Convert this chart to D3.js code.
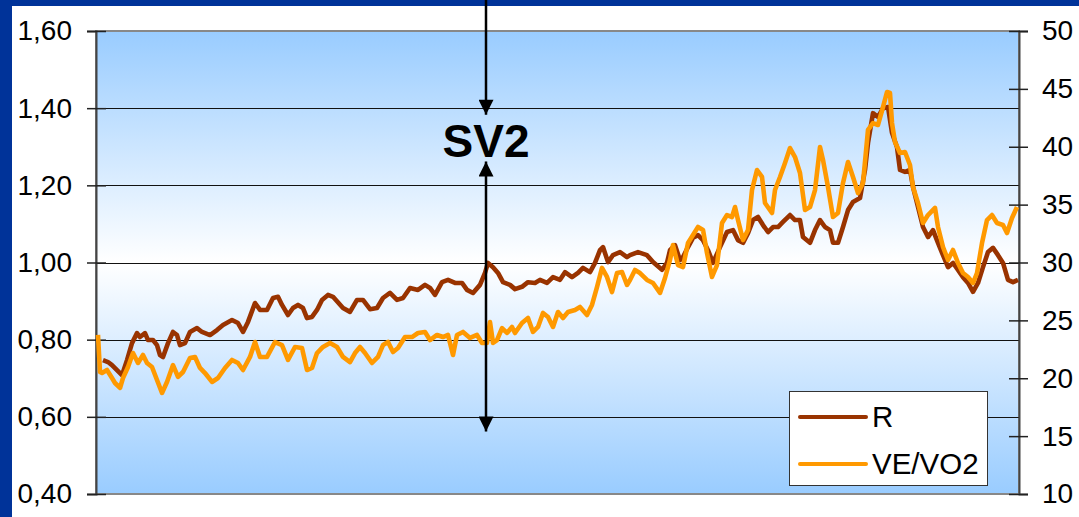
<!DOCTYPE html>
<html><head><meta charset="utf-8">
<script src="https://cdn.jsdelivr.net/npm/d3@7"></script>
<style>html,body{margin:0;padding:0;background:#fff;overflow:hidden}svg{display:block;font-family:"Liberation Sans",Arial,sans-serif}</style>
</head><body>
<svg id="c" width="1079" height="517"></svg>
<script>
// sample index (x) and values
const rT = [7,12,16,21,26,31,36,41,44,49,52,57,61,64,67,72,77,81,84,89,94,101,106,114,121,127,136,142,147,152,159,164,171,177,182,186,192,197,202,207,211,216,221,226,232,237,247,254,261,267,274,281,287,294,301,307,314,322,329,334,339,346,352,359,366,371,377,384,389,392,397,402,407,414,419,426,432,439,444,451,457,464,469,476,482,487,494,499,504,507,512,517,524,531,534,542,551,557,566,571,574,579,584,587,592,597,602,607,612,617,624,631,637,642,647,652,657,662,667,672,677,682,687,694,699,704,707,714,719,724,729,734,737,742,747,752,757,764,769,772,777,782,787,792,796,801,804,809,814,817,822,827,832,837,842,847,852,857,862,867,872,877,882,887,892,897,902,907,912,917,922];
const rVals = [0.747,0.742,0.734,0.721,0.708,0.747,0.791,0.817,0.807,0.817,0.799,0.799,0.786,0.760,0.755,0.791,0.820,0.812,0.786,0.791,0.820,0.830,0.820,0.812,0.825,0.838,0.851,0.843,0.820,0.846,0.895,0.877,0.877,0.908,0.911,0.890,0.864,0.882,0.890,0.882,0.856,0.859,0.877,0.903,0.916,0.911,0.882,0.872,0.903,0.903,0.879,0.882,0.908,0.921,0.903,0.908,0.934,0.929,0.942,0.934,0.916,0.949,0.955,0.947,0.947,0.929,0.921,0.942,0.973,0.999,0.988,0.973,0.949,0.942,0.931,0.937,0.949,0.947,0.955,0.947,0.962,0.955,0.975,0.962,0.973,0.986,0.975,0.999,1.032,1.040,1.001,1.019,1.027,1.014,1.019,1.027,1.019,1.001,0.981,0.999,1.032,1.045,1.006,1.014,1.040,1.064,1.071,1.058,1.032,0.999,1.040,1.079,1.084,1.058,1.051,1.076,1.110,1.118,1.097,1.079,1.092,1.092,1.105,1.123,1.110,1.110,1.066,1.051,1.084,1.110,1.092,1.084,1.051,1.051,1.092,1.136,1.157,1.167,1.240,1.310,1.387,1.377,1.400,1.403,1.336,1.299,1.240,1.235,1.240,1.196,1.144,1.092,1.066,1.084,1.051,1.019,0.988,0.999,0.981,0.962,0.947,0.924,0.947,0.988,1.027,1.038,1.019,0.999,0.955,0.949,0.955];

const veT = [2,4,6,11,16,19,24,27,32,37,42,47,51,56,61,66,71,77,82,87,94,99,104,109,116,122,129,136,142,147,154,159,164,171,179,186,192,199,206,211,216,221,227,234,241,247,254,259,264,269,276,282,287,292,297,302,309,316,322,329,334,341,347,352,357,361,367,374,381,386,391,394,397,401,406,411,416,419,426,432,437,442,447,452,457,462,467,472,479,484,491,496,501,506,511,516,521,526,531,534,539,544,551,557,564,569,574,577,582,587,592,597,602,607,611,616,621,626,631,636,639,642,647,652,656,661,666,669,676,679,684,689,694,699,704,709,714,719,724,727,732,737,742,747,752,757,762,767,772,777,782,787,791,794,796,799,804,809,814,817,822,827,832,839,842,847,852,857,862,867,872,877,881,886,891,896,901,907,911,916,921];
const veVals = [23.74,20.54,20.45,20.71,20.02,19.59,19.16,20.02,20.97,22.18,21.32,22.01,21.32,20.97,19.85,18.73,19.68,21.14,20.11,20.54,21.75,21.84,20.89,20.45,19.68,20.02,20.89,21.58,21.32,20.71,21.84,23.13,21.84,21.84,23.13,22.87,21.58,22.70,22.61,20.71,20.89,22.18,22.70,23.05,22.70,21.84,21.40,22.18,22.70,22.18,21.32,21.84,22.87,23.13,22.27,22.61,23.56,23.56,23.91,24.00,23.30,23.74,23.56,23.74,22.01,23.74,24.00,23.48,23.74,23.05,23.05,24.86,23.05,23.30,24.34,23.91,24.43,23.91,24.77,25.21,24.00,24.43,25.64,25.29,24.43,25.72,25.21,25.72,25.90,26.16,25.46,26.33,27.88,29.53,28.75,27.45,29.09,29.18,28.06,28.49,29.35,29.09,28.49,28.23,27.37,28.66,30.22,31.51,29.78,29.61,31.68,32.38,33.07,32.81,30.82,28.75,29.78,33.41,34.10,33.93,34.79,33.67,31.94,32.81,36.26,37.99,37.39,35.14,34.28,36.26,37.39,38.60,39.89,39.11,37.73,34.54,34.79,36.26,39.98,38.86,36.52,33.93,34.28,36.87,38.68,37.39,36.00,36.87,41.45,42.05,41.88,43.43,44.73,44.64,42.05,40.41,39.46,39.55,38.42,36.52,35.14,33.41,34.10,34.71,33.07,31.34,30.22,31.08,29.96,29.09,28.75,28.23,29.09,31.68,33.67,34.10,33.41,33.24,32.55,33.85,34.79];

const leftTicks = [0.4,0.6,0.8,1.0,1.2,1.4,1.6];
const leftTickLabels = ["0,40","0,60","0,80","1,00","1,20","1,40","1,60"];
const rightTicks = [10,15,20,25,30,35,40,45,50];
const rightTickLabels = ["10","15","20","25","30","35","40","45","50"];
const seriesNames = ["R","VE/VO2"];
const seriesColors = ["#993300","#ff9900"];
const sv2Label = "SV2";
const sv2T = 390;
const sv2Arrows = {topTip:1.383, lowerTop:1.262, lowerBottom:0.562};

const svg = d3.select("#c");
const W = 1079, H = 517;
const m = {l:96, r:1019, t:31, b:494};

const x = d3.scaleLinear().domain([0,923]).range([m.l,m.r]);
const yL = d3.scaleLinear().domain([0.4,1.6]).range([m.b,m.t]);
const yR = d3.scaleLinear().domain([10,50]).range([m.b,m.t]);

// frame strips
svg.append("rect").attr("x",0).attr("y",0).attr("width",W).attr("height",6).attr("fill","#003399");
svg.append("rect").attr("x",0).attr("y",0).attr("width",12).attr("height",H).attr("fill","#003399");

const defs = svg.append("defs");
const g = defs.append("linearGradient").attr("id","bg").attr("x1",0).attr("x2",0).attr("y1",0).attr("y2",1);
g.append("stop").attr("offset","0%").attr("stop-color","#99ccff");
g.append("stop").attr("offset","50%").attr("stop-color","#ffffff");
g.append("stop").attr("offset","100%").attr("stop-color","#99ccff");
const ah = defs.append("marker").attr("id","ah").attr("viewBox","0 0 10 10").attr("refX",10).attr("refY",5)
  .attr("markerUnits","userSpaceOnUse").attr("markerWidth",16).attr("markerHeight",15).attr("orient","auto-start-reverse");
ah.append("path").attr("d","M0,0L10,5L0,10Z").attr("fill","#000");

svg.append("rect").attr("x",m.l).attr("y",m.t).attr("width",m.r-m.l).attr("height",m.b-m.t)
  .attr("fill","url(#bg)").attr("stroke","#888").attr("stroke-width",2);

// gridlines
svg.append("g").selectAll("line").data(leftTicks.slice(1,-1)).join("line")
  .attr("x1",m.l).attr("x2",m.r).attr("y1",d=>Math.round(yL(d))+0.5).attr("y2",d=>Math.round(yL(d))+0.5)
  .attr("stroke","#111").attr("stroke-width",1.2);

// axes
const la = svg.append("g").attr("transform",`translate(${m.l},0)`)
  .call(d3.axisLeft(yL).tickValues(leftTicks).tickFormat((d,i)=>leftTickLabels[i]).tickSize(9).tickPadding(15));
la.select(".domain").attr("stroke","#444").attr("stroke-width",2);
la.selectAll(".tick line").attr("x1",10).attr("stroke","#222").attr("stroke-width",1.5);
la.selectAll(".tick text").attr("font-size",28).attr("fill","#000").attr("x",-24).attr("font-family","Liberation Sans, Arial, sans-serif");

const ra = svg.append("g").attr("transform",`translate(${m.r},0)`)
  .call(d3.axisRight(yR).tickValues(rightTicks).tickFormat((d,i)=>rightTickLabels[i]).tickSize(9).tickPadding(14));
ra.select(".domain").attr("stroke","#444").attr("stroke-width",2);
ra.selectAll(".tick line").attr("x1",-10).attr("stroke","#222").attr("stroke-width",1.5);
ra.selectAll(".tick text").attr("font-size",28).attr("fill","#000").attr("x",23).attr("font-family","Liberation Sans, Arial, sans-serif");

// series
const lineR = d3.line().x((d,i)=>x(rT[i])).y(d=>yL(d));
const lineV = d3.line().x((d,i)=>x(veT[i])).y(d=>yR(d));
svg.append("path").attr("d",lineR(rVals)).attr("fill","none").attr("stroke",seriesColors[0]).attr("stroke-width",4.6).attr("stroke-linejoin","round");
svg.append("path").attr("d",lineV(veVals)).attr("fill","none").attr("stroke",seriesColors[1]).attr("stroke-width",4.6).attr("stroke-linejoin","round");

// SV2 annotation
const ax = x(sv2T);
svg.append("line").attr("x1",ax).attr("x2",ax).attr("y1",0).attr("y2",yL(sv2Arrows.topTip))
  .attr("stroke","#000").attr("stroke-width",2.5).attr("marker-end","url(#ah)");
svg.append("line").attr("x1",ax).attr("x2",ax).attr("y1",yL(sv2Arrows.lowerTop)).attr("y2",yL(sv2Arrows.lowerBottom))
  .attr("stroke","#000").attr("stroke-width",2.5).attr("marker-start","url(#ah)").attr("marker-end","url(#ah)");
svg.append("text").attr("x",ax).attr("y",157).attr("text-anchor","middle").attr("font-weight","bold")
  .attr("font-size",46).attr("fill","#000").text(sv2Label);

// legend
const lg = svg.append("g");
lg.append("rect").attr("x",789.5).attr("y",391.5).attr("width",198).attr("height",94).attr("fill","#fff").attr("stroke","#333").attr("stroke-width",1);
seriesNames.forEach((n,i)=>{
  const yy = 417 + i*47;
  lg.append("line").attr("x1",800).attr("x2",866).attr("y1",yy).attr("y2",yy).attr("stroke",seriesColors[i]).attr("stroke-width",4).attr("stroke-linecap","round");
  lg.append("text").attr("x",872).attr("y",yy+10).attr("font-size",29.5).attr("fill","#000").text(n);
});
</script>
</body></html>
